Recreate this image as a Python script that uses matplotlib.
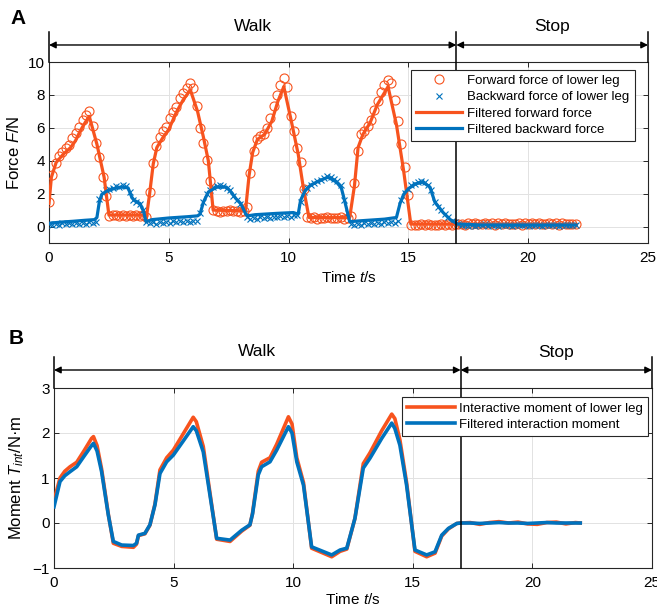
import numpy as np
import matplotlib
matplotlib.use('Agg')
import matplotlib.pyplot as plt

plt.rcParams['font.family'] = ['Liberation Sans', 'DejaVu Sans']
plt.rcParams['mathtext.fontset'] = 'custom'
plt.rcParams['mathtext.rm'] = 'Liberation Sans'
plt.rcParams['mathtext.it'] = 'Liberation Sans:italic'

ORANGE = '#F7531E'
BLUE = '#0072BD'
AXC = '#262626'

# ---- panel A: raw force samples (one sample every DT seconds) ----
DT = 0.14
fwd_raw = [1.5, 3.15, 3.86, 4.26, 4.56, 4.77, 4.97, 5.37, 5.68, 6.08,
           6.48, 6.79, 7.03, 6.12, 5.07, 4.2, 2.99, 1.84, 0.62, 0.68,
           0.72, 0.66, 0.7, 0.64, 0.71, 0.67, 0.69, 0.65, 0.7, 0.55,
           2.1, 3.86, 4.87, 5.47, 5.78, 6.08, 6.59, 6.99, 7.29, 7.8,
           8.1, 8.4, 8.7, 8.4, 7.35, 6.0, 5.1, 4.06, 2.75, 1.0,
           0.95, 0.9, 0.97, 0.92, 0.98, 0.93, 0.96, 0.9, 0.97, 1.2,
           3.25, 4.6, 5.3, 5.5, 5.6, 6.0, 6.6, 7.3, 8.0, 8.6,
           9.0, 8.5, 6.7, 5.8, 4.8, 3.9, 2.3, 0.55, 0.5, 0.55,
           0.48, 0.52, 0.5, 0.56, 0.49, 0.53, 0.5, 0.55, 0.48, 0.52,
           0.65, 2.65, 4.6, 5.6, 5.8, 6.1, 6.5, 7.1, 7.6, 8.2,
           8.6, 8.9, 8.7, 7.7, 6.4, 5.0, 3.6, 1.9, 0.1, 0.12,
           0.08, 0.14, 0.1, 0.13, 0.09, 0.12, 0.11, 0.15, 0.1, 0.13,
           0.12, 0.16, 0.14, 0.18, 0.12, 0.2, 0.15, 0.22, 0.13, 0.17,
           0.24, 0.14, 0.19, 0.12, 0.21, 0.16, 0.23, 0.13, 0.18, 0.15,
           0.22, 0.12, 0.19, 0.17, 0.24, 0.14, 0.2, 0.13, 0.18, 0.22,
           0.15, 0.19, 0.12, 0.21, 0.16, 0.18, 0.14, 0.17]
bwd_raw = [0.15, 0.1, 0.18, 0.12, 0.2, 0.14, 0.22, 0.16, 0.2, 0.15,
           0.24, 0.18, 0.25, 0.2, 0.3, 1.7, 2.05, 2.2, 2.3, 2.35,
           2.45, 2.4, 2.5, 2.45, 2.1, 1.6, 1.5, 1.35, 1.0, 0.3,
           0.2, 0.25, 0.18, 0.28, 0.22, 0.3, 0.24, 0.32, 0.26, 0.33,
           0.28, 0.35, 0.3, 0.36, 0.32, 0.8, 1.5, 2.0, 2.25, 2.4,
           2.45, 2.5, 2.45, 2.35, 2.2, 1.85, 1.6, 1.4, 1.1, 0.6,
           0.45, 0.52, 0.48, 0.55, 0.5, 0.58, 0.52, 0.6, 0.55, 0.62,
           0.58, 0.65, 0.6, 0.68, 0.7, 1.5, 2.1, 2.35, 2.55, 2.65,
           2.75, 2.85, 2.95, 3.05, 3.0, 2.9, 2.75, 2.5, 1.6, 0.8,
           0.15, 0.1, 0.18, 0.12, 0.2, 0.14, 0.22, 0.16, 0.24, 0.18,
           0.25, 0.2, 0.27, 0.22, 0.35, 1.6, 2.05, 2.3, 2.5, 2.6,
           2.7, 2.75, 2.7, 2.55, 2.2, 1.5, 1.2, 1.0, 0.75, 0.55,
           0.35, 0.25, 0.15, 0.08, 0.12, 0.06, 0.1, 0.05, 0.11, 0.07,
           0.13, 0.06, 0.09, 0.12, 0.05, 0.1, 0.08, 0.11, 0.06, 0.12,
           0.09, 0.07, 0.1, 0.05, 0.11, 0.08, 0.12, 0.06, 0.1, 0.09,
           0.07, 0.11, 0.05, 0.1, 0.08, 0.12, 0.07, 0.1]
t_raw = np.arange(len(fwd_raw)) * DT

# filtered force curves (vertices)
fwd_filt_t = [0.0, 0.1, 0.3, 0.6, 0.9, 1.1, 1.3, 1.5, 1.68, 2.0,
              2.3, 2.5, 3.95, 4.05, 4.2, 4.35, 4.5, 4.75, 5.0, 5.3,
              5.6, 5.9, 6.2, 6.45, 6.65, 6.85, 8.2, 8.35, 8.5, 8.7,
              9.0, 9.3, 9.55, 9.8, 10.1, 10.4, 10.6, 10.85, 12.55, 12.75,
              12.9, 13.1, 13.4, 13.7, 14.15, 14.5, 14.8, 15.1, 17.0, 22.0]
fwd_filt = [1.4, 3.0, 3.9, 4.4, 4.8, 5.2, 5.8, 6.3, 6.7, 5.0,
            3.0, 0.7, 0.7, 0.4, 2.0, 3.8, 4.8, 5.4, 5.9, 6.9,
            7.7, 8.3, 7.0, 5.4, 4.0, 1.0, 0.95, 3.1, 4.5, 5.3,
            5.6, 6.4, 7.6, 8.5, 6.5, 4.4, 2.5, 0.55, 0.55, 2.5,
            4.8, 5.6, 6.3, 7.4, 8.5, 6.2, 3.4, 0.15, 0.15, 0.12]
bwd_filt_t = [0.0, 0.5, 1.0, 1.5, 1.9, 2.0, 2.1, 2.2, 2.4, 2.7,
              3.0, 3.3, 3.45, 3.55, 3.8, 3.95, 4.05, 4.3, 5.0, 5.8,
              6.2, 6.3, 6.45, 6.65, 7.0, 7.4, 7.6, 7.8, 8.0, 8.2,
              8.3, 8.6, 9.5, 10.2, 10.4, 10.5, 10.7, 10.9, 11.3, 11.65,
              12.0, 12.2, 12.35, 12.55, 13.0, 14.0, 14.5, 14.65, 14.8, 15.0,
              15.3, 15.6, 15.9, 16.1, 16.45, 16.75, 17.05, 18.0, 20.0, 22.0]
bwd_filt = [0.2, 0.27, 0.32, 0.38, 0.42, 0.55, 1.5, 1.95, 2.15, 2.3,
            2.4, 2.35, 1.8, 1.6, 1.4, 0.9, 0.3, 0.42, 0.52, 0.6,
            0.65, 0.75, 1.5, 2.1, 2.4, 2.4, 2.1, 1.7, 1.4, 0.8,
            0.65, 0.72, 0.8, 0.85, 0.75, 1.6, 2.2, 2.5, 2.8, 3.0,
            2.7, 2.35, 1.5, 0.3, 0.35, 0.45, 0.55, 1.4, 1.95, 2.3,
            2.6, 2.7, 2.4, 1.5, 0.85, 0.42, 0.15, 0.1, 0.1, 0.1]

# ---- panel B: interaction moment ----
mom_t = [0.0, 0.25, 0.45, 0.67, 0.95, 1.25, 1.57, 1.65, 1.8, 1.99,
         2.27, 2.48, 2.83, 3.32, 3.45, 3.53, 3.8, 4.01, 4.22, 4.43,
         4.71, 4.99, 5.4, 5.82, 5.95, 6.24, 6.8, 7.36, 7.85, 8.19,
         8.3, 8.54, 8.68, 9.03, 9.31, 9.8, 9.95, 10.15, 10.43, 10.77,
         11.61, 11.96, 12.24, 12.58, 12.93, 13.21, 13.7, 14.12, 14.25, 14.46,
         14.74, 15.09, 15.58, 15.93, 16.21, 16.49, 16.84, 17.0, 17.4, 17.8,
         18.2, 18.6, 19.0, 19.4, 19.8, 20.2, 20.6, 21.0, 21.4, 21.8,
         22.0]
mom_raw = [0.5, 1.0, 1.15, 1.25, 1.35, 1.6, 1.88, 1.92, 1.72, 1.2,
           0.2, -0.45, -0.52, -0.54, -0.47, -0.28, -0.24, -0.05, 0.42, 1.18,
           1.45, 1.62, 1.98, 2.35, 2.25, 1.7, -0.36, -0.41, -0.18, -0.05,
           0.22, 1.15, 1.35, 1.45, 1.75, 2.36, 2.2, 1.45, 0.9, -0.56,
           -0.75, -0.63, -0.58, 0.1, 1.32, 1.56, 2.05, 2.42, 2.32, 1.85,
           0.9, -0.63, -0.75, -0.67, -0.29, -0.13, -0.01, 0.0, 0.01, -0.03,
           0.01, 0.03, 0.0, 0.02, -0.02, -0.03, 0.01, 0.02, -0.02, 0.01,
           0.0]
mom_filt = [0.36, 0.92, 1.05, 1.14, 1.25, 1.48, 1.72, 1.77, 1.6, 1.14,
            0.18, -0.41, -0.49, -0.5, -0.45, -0.27, -0.23, -0.04, 0.4, 1.1,
            1.36, 1.51, 1.82, 2.14, 2.05, 1.58, -0.34, -0.38, -0.16, -0.04,
            0.2, 1.07, 1.25, 1.36, 1.62, 2.14, 2.0, 1.36, 0.84, -0.53,
            -0.71, -0.6, -0.56, 0.1, 1.22, 1.44, 1.88, 2.22, 2.1, 1.73,
            0.84, -0.6, -0.71, -0.64, -0.27, -0.12, -0.01, 0.0, 0.0, -0.01,
            0.0, 0.01, 0.0, 0.0, -0.01, 0.0, 0.01, 0.0, 0.0, 0.0,
            0.0]

phase_edges = [0, 17, 25]
phase_names = ['Walk', 'Stop']


def style_axes(ax, yticks, ylim):
    ax.set_xlim(0, 25)
    ax.set_ylim(*ylim)
    ax.set_xticks([0, 5, 10, 15, 20, 25])
    ax.set_yticks(yticks)
    ax.grid(True, color='#e2e2e2', lw=0.7)
    ax.set_axisbelow(True)
    ax.tick_params(direction='in', top=True, right=True, length=3.5, width=0.7,
                   labelsize=11, color=AXC)
    ax.tick_params(axis='x', pad=6)
    ax.tick_params(axis='y', pad=3)
    for s in ax.spines.values():
        s.set_color(AXC)
        s.set_linewidth(0.8)


def phase_arrows(ax, y_arrow, y_top, y_text):
    trans = ax.get_xaxis_transform()
    for x in phase_edges:
        y0 = 0 if 0 < x < 25 else 1
        ax.plot([x, x], [y0, y_top], color='k', lw=1.1, transform=trans, clip_on=False, zorder=6)
    for a, b, name in zip(phase_edges[:-1], phase_edges[1:], phase_names):
        ax.annotate('', xy=(b, y_arrow), xytext=(a, y_arrow), xycoords=trans, textcoords=trans,
                    arrowprops=dict(arrowstyle='<|-|>', color='k', lw=1.0, mutation_scale=10,
                                    shrinkA=0, shrinkB=0))
        ax.text((a + b) / 2, y_text, name, transform=trans, ha='center', va='center', fontsize=12.5)


fig = plt.figure(figsize=(6.57, 6.14), dpi=100)

# panel A
ax1 = fig.add_axes([49 / 657, 1 - 243 / 614, 599 / 657, 181 / 614])
ax1.plot(t_raw, fwd_raw, 'o', ms=6.5, mfc='none', mec=ORANGE, mew=0.8,
         label='Forward force of lower leg', zorder=3)
ax1.plot(t_raw, bwd_raw, 'x', ms=4.5, color=BLUE, mew=0.8,
         label='Backward force of lower leg', zorder=3)
ax1.plot(fwd_filt_t, fwd_filt, color=ORANGE, lw=2.3, label='Filtered forward force', zorder=4)
ax1.plot(bwd_filt_t, bwd_filt, color=BLUE, lw=2.3, label='Filtered backward force', zorder=4)
style_axes(ax1, [0, 2, 4, 6, 8, 10], (-1, 10))
ax1.set_xlabel('Time $t$/s', fontsize=11, labelpad=3)
ax1.set_ylabel('Force $F$/N', fontsize=12, labelpad=4)
leg1 = ax1.legend(loc='upper right', bbox_to_anchor=(0.978, 0.958), borderaxespad=0,
                  fontsize=9.5, handlelength=3.5, labelspacing=0.3, borderpad=0.4,
                  handletextpad=0.4, fancybox=False, framealpha=1, edgecolor=AXC)
leg1.get_frame().set_linewidth(0.8)
leg1.set_zorder(10)
phase_arrows(ax1, 1.094, 1.166, 1.195)
fig.text(18 / 657, 1 - 18 / 614, 'A', fontsize=15, fontweight='bold', ha='center', va='center')

# panel B
ax2 = fig.add_axes([54 / 657, 1 - 568 / 614, 598 / 657, 180 / 614])
ax2.plot(mom_t, mom_raw, color=ORANGE, lw=2.6, label='Interactive moment of lower leg', zorder=3)
ax2.plot(mom_t, mom_filt, color=BLUE, lw=2.6, label='Filtered interaction moment', zorder=4)
style_axes(ax2, [-1, 0, 1, 2, 3], (-1, 3))
ax2.set_xlabel('Time $t$/s', fontsize=11, labelpad=1)
ax2.set_ylabel('Moment $T_{int}$/N·m', fontsize=12, labelpad=5)
leg2 = ax2.legend(loc='upper right', bbox_to_anchor=(0.993, 0.95), borderaxespad=0,
                  fontsize=9.5, handlelength=3.6, labelspacing=0.3, borderpad=0.4,
                  handletextpad=0.3, fancybox=False, framealpha=1, edgecolor=AXC)
leg2.get_frame().set_linewidth(0.8)
leg2.set_zorder(10)
phase_arrows(ax2, 1.1, 1.172, 1.2)
fig.text(16 / 657, 1 - 338 / 614, 'B', fontsize=15, fontweight='bold', ha='center', va='center')

fig.savefig('out.png', dpi=100, facecolor='white')
